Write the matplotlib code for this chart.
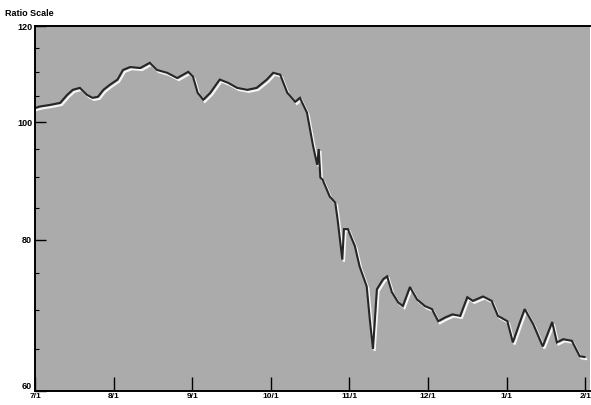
import matplotlib
matplotlib.use("Agg")
import matplotlib.pyplot as plt
import matplotlib.patheffects as pe
from matplotlib.ticker import FixedLocator, NullFormatter

# months elapsed since 7/1 (uniform month spacing as drawn)
months = [0, 0.064, 0.19, 0.32, 0.41, 0.48, 0.57, 0.66, 0.73, 0.80, 0.87, 0.95,
          1.05, 1.12, 1.21, 1.34, 1.46, 1.55, 1.68, 1.81, 1.84, 1.95, 2.01, 2.07,
          2.14, 2.23, 2.35, 2.46, 2.57, 2.70, 2.82, 2.95, 3.03, 3.12, 3.21, 3.31,
          3.37, 3.46, 3.54, 3.59, 3.61, 3.63, 3.66, 3.75, 3.82, 3.85, 3.91, 3.93,
          3.98, 4.07, 4.13, 4.22, 4.26, 4.30, 4.35, 4.43, 4.48, 4.54, 4.62, 4.68,
          4.77, 4.86, 4.96, 5.05, 5.13, 5.22, 5.31, 5.41, 5.50, 5.57, 5.70, 5.81,
          5.89, 6.01, 6.08, 6.17, 6.23, 6.34, 6.46, 6.58, 6.64, 6.72, 6.83, 6.93,
          6.99]
values = [102.7, 103.0, 103.3, 103.7, 105.3, 106.3, 106.7, 105.3, 104.7, 104.9, 106.3, 107.3,
          108.4, 110.4, 111.0, 110.8, 111.9, 110.4, 109.8, 108.7, 109.0, 110.0, 109.0, 105.7,
          104.3, 105.7, 108.4, 107.7, 106.7, 106.3, 106.7, 108.4, 109.8, 109.4, 105.7, 103.9,
          104.7, 101.8, 95.4, 92.2, 95.0, 90.0, 89.6, 86.8, 85.8, 83.1, 77.0, 81.6,
          81.6, 79.0, 76.0, 73.2, 68.7, 65.0, 72.8, 74.2, 74.6, 72.4, 71.0, 70.5,
          73.1, 71.4, 70.5, 70.1, 68.5, 69.0, 69.4, 69.2, 71.7, 71.2, 71.8, 71.2,
          69.2, 68.5, 65.8, 68.4, 70.1, 68.1, 65.3, 68.4, 65.8, 66.2, 66.0, 64.1,
          64.0]

month_labels = ["7/1", "8/1", "9/1", "10/1", "11/1", "12/1", "1/1", "2/1"]
month_ticks = [0, 1, 2, 3, 4, 5, 6, 7]
y_major = [60, 80, 100, 120]
y_minor = [65, 70, 75, 85, 90, 95, 105, 110, 115]

plt.rcParams['font.family'] = ['Liberation Sans', 'DejaVu Sans']

fig = plt.figure(figsize=(5.91, 4.05), dpi=100)
ax = fig.add_axes([35/591, 14/405, 555/591, 365/405])
ax.set_facecolor('#ababab')

ax.plot(months, values, color='#262626', lw=1.5, solid_joinstyle='miter',
        path_effects=[pe.SimpleLineShadow(offset=(1.2, -1.5), shadow_color='white', alpha=0.9, rho=1),
                      pe.Normal()])

ax.set_yscale('log')
ax.set_ylim(60, 120)
ax.set_xlim(0, 555/78.6)
ax.yaxis.set_major_locator(FixedLocator(y_major))
ax.yaxis.set_minor_locator(FixedLocator(y_minor))
ax.yaxis.set_minor_formatter(NullFormatter())
ax.set_yticklabels([str(v) for v in y_major])
ax.set_xticks(month_ticks)
ax.set_xticklabels(month_labels)

ax.tick_params(axis='y', which='major', direction='in', length=8, width=1, pad=2,
               labelsize=6.5, color='black')
ax.tick_params(axis='y', which='minor', direction='in', length=3, width=0.8, color='black')
ax.tick_params(axis='x', which='major', direction='in', length=10, width=1, pad=1.5,
               labelsize=6, color='black')
for lbl in ax.get_xticklabels() + ax.get_yticklabels():
    lbl.set_fontweight('bold')
ax.get_yticklabels()[0].set_va('bottom')

for s in ['left', 'bottom', 'top']:
    ax.spines[s].set_color('black')
    ax.spines[s].set_linewidth(1.4)
ax.spines['right'].set_visible(False)

fig.text(5/591, 1 - 13/405, "Ratio Scale", fontsize=6.5, fontweight='bold', va='center', ha='left')

fig.savefig('out.png', dpi=100)
